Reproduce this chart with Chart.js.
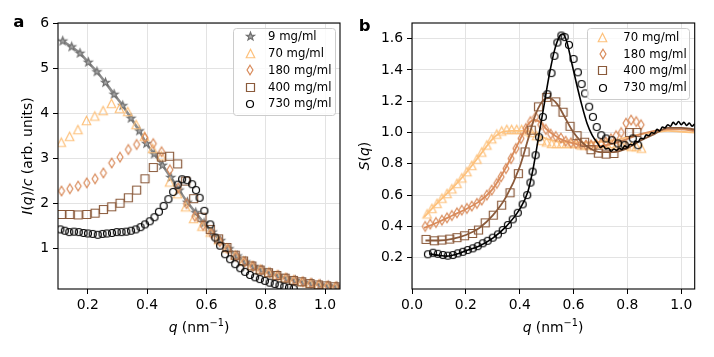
<!DOCTYPE html>
<html>
<head>
<meta charset="utf-8">
<script src="https://cdn.jsdelivr.net/npm/chart.js@4.4.1/dist/chart.umd.min.js"></script>
<style>
  html, body { margin: 0; padding: 0; background: #fff; }
  #wrap { display: flex; width: 714px; height: 357px; }
  canvas { display: block; }
</style>
</head>
<body>
<div id="wrap">
  <canvas id="chartA" width="357" height="357"></canvas>
  <canvas id="chartB" width="357" height="357"></canvas>
</div>
<script>
// ---- panel a : I(q)/c ----
const labels = ['9 mg/ml', '70 mg/ml', '180 mg/ml', '400 mg/ml', '730 mg/ml'];

const qA9 = [0.116, 0.146, 0.174, 0.202, 0.231, 0.260, 0.289, 0.318, 0.346, 0.374, 0.398, 0.424, 0.452, 0.480, 0.508, 0.536, 0.564, 0.592, 0.620, 0.648, 0.676, 0.704, 0.732, 0.760, 0.788, 0.816, 0.844, 0.872, 0.900, 0.928, 0.956, 0.984, 1.012, 1.040];
const iA9 = [5.60, 5.47, 5.33, 5.13, 4.92, 4.68, 4.42, 4.17, 3.89, 3.61, 3.33, 3.10, 2.85, 2.58, 2.30, 2.03, 1.80, 1.57, 1.37, 1.18, 1.00, 0.84, 0.71, 0.61, 0.53, 0.46, 0.40, 0.34, 0.30, 0.26, 0.23, 0.20, 0.18, 0.16];

const qA70 = [0.111, 0.139, 0.167, 0.196, 0.224, 0.252, 0.280, 0.307, 0.335, 0.363, 0.391, 0.419, 0.448, 0.476, 0.503, 0.530, 0.557, 0.585, 0.613, 0.641, 0.669, 0.697, 0.725, 0.753, 0.781, 0.809, 0.837, 0.865, 0.893, 0.921, 0.949, 0.977, 1.005, 1.033];
const iA70 = [3.36, 3.49, 3.64, 3.84, 3.94, 4.06, 4.22, 4.11, 4.04, 3.75, 3.49, 3.22, 3.06, 2.48, 2.22, 1.93, 1.67, 1.50, 1.37, 1.20, 1.02, 0.86, 0.73, 0.63, 0.55, 0.48, 0.42, 0.36, 0.31, 0.27, 0.24, 0.21, 0.18, 0.16];

const qA180 = [0.112, 0.140, 0.168, 0.197, 0.225, 0.253, 0.281, 0.309, 0.337, 0.365, 0.393, 0.421, 0.449, 0.477, 0.505, 0.533, 0.561, 0.589, 0.617, 0.645, 0.673, 0.701, 0.729, 0.757, 0.785, 0.813, 0.841, 0.869, 0.897, 0.925, 0.953, 0.981, 1.009, 1.037];
const iA180 = [2.28, 2.33, 2.39, 2.46, 2.55, 2.68, 2.90, 3.03, 3.20, 3.31, 3.46, 3.33, 3.15, 2.75, 2.35, 2.00, 1.72, 1.52, 1.34, 1.16, 0.99, 0.83, 0.71, 0.61, 0.53, 0.47, 0.41, 0.35, 0.30, 0.27, 0.24, 0.21, 0.18, 0.16];

const qA400 = [0.112, 0.140, 0.168, 0.197, 0.225, 0.253, 0.281, 0.309, 0.337, 0.365, 0.393, 0.421, 0.449, 0.476, 0.503, 0.530, 0.557, 0.585, 0.613, 0.641, 0.669, 0.697, 0.725, 0.753, 0.781, 0.809, 0.837, 0.865, 0.893, 0.921, 0.949, 0.977, 1.005, 1.033];
const iA400 = [1.76, 1.76, 1.75, 1.76, 1.79, 1.87, 1.93, 2.01, 2.13, 2.30, 2.55, 2.80, 3.03, 3.05, 2.88, 2.50, 2.11, 1.70, 1.43, 1.22, 1.03, 0.86, 0.73, 0.62, 0.53, 0.47, 0.41, 0.35, 0.30, 0.27, 0.23, 0.20, 0.18, 0.16];

const qA730 = [0.108, 0.123, 0.138, 0.154, 0.170, 0.186, 0.201, 0.217, 0.234, 0.250, 0.265, 0.282, 0.298, 0.314, 0.330, 0.346, 0.362, 0.378, 0.393, 0.409, 0.425, 0.440, 0.456, 0.472, 0.488, 0.503, 0.518, 0.535, 0.552, 0.565, 0.577, 0.593, 0.613, 0.630, 0.646, 0.663, 0.680, 0.697, 0.714, 0.730, 0.747, 0.764, 0.780, 0.797, 0.813, 0.830, 0.846, 0.862, 0.878, 0.894];
const iA730 = [1.43, 1.40, 1.37, 1.38, 1.37, 1.35, 1.34, 1.33, 1.31, 1.33, 1.34, 1.35, 1.37, 1.37, 1.38, 1.40, 1.43, 1.48, 1.54, 1.61, 1.70, 1.82, 1.95, 2.10, 2.26, 2.42, 2.54, 2.52, 2.43, 2.30, 2.13, 1.84, 1.54, 1.25, 1.07, 0.88, 0.77, 0.66, 0.57, 0.49, 0.42, 0.37, 0.33, 0.29, 0.25, 0.22, 0.19, 0.16, 0.14, 0.12];

// ---- panel b : S(q) markers ----
const qB70 = [0.056, 0.074, 0.093, 0.111, 0.130, 0.148, 0.167, 0.185, 0.204, 0.222, 0.241, 0.259, 0.278, 0.296, 0.315, 0.333, 0.352, 0.370, 0.389, 0.407, 0.426, 0.444, 0.463, 0.481, 0.500, 0.519, 0.537, 0.556, 0.574, 0.593, 0.611, 0.630, 0.648, 0.667, 0.685, 0.704, 0.722, 0.741, 0.759, 0.778, 0.796, 0.815, 0.833, 0.852];
const sB70 = [0.48, 0.515, 0.547, 0.58, 0.61, 0.64, 0.675, 0.71, 0.75, 0.79, 0.83, 0.875, 0.92, 0.96, 0.99, 1.01, 1.02, 1.02, 1.02, 1.02, 1.01, 1.00, 0.98, 0.95, 0.94, 0.93, 0.93, 0.93, 0.93, 0.93, 0.93, 0.92, 0.92, 0.92, 0.93, 0.93, 0.93, 0.93, 0.92, 0.92, 0.92, 0.91, 0.91, 0.90];

const qB180 = [0.049, 0.068, 0.089, 0.111, 0.130, 0.148, 0.167, 0.185, 0.204, 0.222, 0.241, 0.259, 0.278, 0.296, 0.315, 0.331, 0.349, 0.368, 0.386, 0.405, 0.423, 0.440, 0.459, 0.478, 0.497, 0.515, 0.534, 0.553, 0.571, 0.590, 0.609, 0.627, 0.646, 0.665, 0.683, 0.702, 0.720, 0.739, 0.758, 0.777, 0.795, 0.814, 0.833, 0.851];
const sB180 = [0.40, 0.415, 0.425, 0.44, 0.455, 0.47, 0.487, 0.504, 0.515, 0.53, 0.547, 0.568, 0.60, 0.632, 0.675, 0.717, 0.77, 0.834, 0.898, 0.962, 1.026, 1.07, 1.10, 1.05, 1.02, 0.99, 0.975, 0.965, 0.945, 0.935, 0.93, 0.925, 0.92, 0.92, 0.925, 0.93, 0.94, 0.96, 0.98, 1.00, 1.06, 1.08, 1.07, 1.05];

const qB400 = [0.052, 0.083, 0.111, 0.140, 0.167, 0.195, 0.225, 0.247, 0.272, 0.302, 0.333, 0.364, 0.395, 0.420, 0.443, 0.470, 0.500, 0.534, 0.561, 0.587, 0.613, 0.641, 0.665, 0.692, 0.721, 0.750, 0.780, 0.808, 0.835];
const sB400 = [0.317, 0.308, 0.313, 0.319, 0.328, 0.34, 0.355, 0.377, 0.423, 0.472, 0.536, 0.615, 0.737, 0.876, 1.015, 1.164, 1.225, 1.196, 1.13, 1.04, 0.98, 0.938, 0.89, 0.868, 0.862, 0.866, 0.92, 1.00, 1.00];

const qB730 = [0.059, 0.078, 0.096, 0.115, 0.133, 0.152, 0.170, 0.189, 0.207, 0.226, 0.244, 0.263, 0.281, 0.300, 0.319, 0.337, 0.356, 0.374, 0.393, 0.411, 0.428, 0.440, 0.448, 0.459, 0.472, 0.486, 0.503, 0.518, 0.529, 0.540, 0.555, 0.567, 0.583, 0.600, 0.616, 0.630, 0.643, 0.658, 0.672, 0.686, 0.703, 0.721, 0.743, 0.765, 0.790, 0.820, 0.840];
const sB730 = [0.222, 0.232, 0.225, 0.217, 0.213, 0.217, 0.228, 0.238, 0.249, 0.26, 0.274, 0.292, 0.308, 0.328, 0.349, 0.377, 0.409, 0.445, 0.487, 0.541, 0.60, 0.68, 0.75, 0.855, 0.97, 1.10, 1.245, 1.38, 1.49, 1.575, 1.62, 1.61, 1.56, 1.47, 1.385, 1.31, 1.25, 1.165, 1.10, 1.035, 0.983, 0.962, 0.951, 0.93, 0.919, 0.962, 0.919];

// ---- panel b : S(q) lines ----
const qL70 = [0.045, 0.10, 0.15, 0.20, 0.25, 0.30, 0.33, 0.37, 0.42, 0.46, 0.50, 0.55, 0.60, 0.65, 0.70, 0.75, 0.80, 0.85, 0.90, 0.95, 1.00, 1.05];
const sL70 = [0.46, 0.56, 0.645, 0.74, 0.85, 0.96, 1.00, 1.01, 1.01, 0.99, 0.96, 0.94, 0.935, 0.935, 0.94, 0.95, 0.97, 0.99, 1.00, 1.01, 1.005, 1.00];

const qL180 = [0.045, 0.10, 0.15, 0.20, 0.25, 0.30, 0.35, 0.40, 0.43, 0.455, 0.48, 0.50, 0.55, 0.60, 0.65, 0.70, 0.75, 0.80, 0.85, 0.90, 0.95, 1.00, 1.05];
const sL180 = [0.39, 0.43, 0.47, 0.51, 0.56, 0.64, 0.78, 0.95, 1.05, 1.08, 1.06, 1.02, 0.96, 0.93, 0.915, 0.915, 0.93, 0.96, 0.99, 1.01, 1.02, 1.02, 1.01];

const qL400 = [0.05, 0.10, 0.15, 0.20, 0.25, 0.30, 0.35, 0.40, 0.43, 0.46, 0.49, 0.51, 0.54, 0.57, 0.60, 0.63, 0.66, 0.70, 0.75, 0.80, 0.85, 0.90, 0.95, 1.00, 1.05];
const sL400 = [0.31, 0.31, 0.32, 0.345, 0.39, 0.47, 0.59, 0.78, 0.95, 1.12, 1.21, 1.22, 1.18, 1.09, 1.00, 0.94, 0.90, 0.875, 0.875, 0.90, 0.95, 0.99, 1.03, 1.03, 1.02];

const qL730 = [0.065, 0.10, 0.13, 0.17, 0.20, 0.25, 0.30, 0.35, 0.40, 0.43, 0.45, 0.47, 0.49, 0.51, 0.53, 0.55, 0.56, 0.575, 0.59, 0.61, 0.63, 0.65, 0.67, 0.69, 0.70, 0.71, 0.72, 0.73, 0.74, 0.75, 0.76, 0.77, 0.78, 0.79, 0.80, 0.81, 0.82, 0.83, 0.84, 0.85, 0.86, 0.87, 0.88, 0.89, 0.90, 0.91, 0.92, 0.93, 0.94, 0.95, 0.96, 0.97, 0.98, 0.99, 1.00, 1.01, 1.02, 1.03, 1.04, 1.05];
const sL730 = [0.225, 0.215, 0.21, 0.225, 0.245, 0.275, 0.325, 0.40, 0.51, 0.62, 0.77, 0.97, 1.17, 1.37, 1.53, 1.62, 1.63, 1.58, 1.47, 1.32, 1.18, 1.06, 0.98, 0.93, 0.905, 0.915, 0.895, 0.90, 0.88, 0.895, 0.885, 0.90, 0.89, 0.915, 0.905, 0.925, 0.92, 0.945, 0.94, 0.965, 0.96, 0.985, 0.98, 1.00, 0.995, 1.02, 1.01, 1.035, 1.03, 1.05, 1.04, 1.065, 1.05, 1.07, 1.05, 1.065, 1.045, 1.06, 1.04, 1.055];

const FONT = 'DejaVu Sans';
const C70 = '#fdc17c';
const C180 = '#d98b5b';
const C400 = '#8a5a3b';
const C730 = '#000000';

Chart.defaults.font.family = FONT;
Chart.defaults.color = '#000';

// marker images, matplotlib-like shapes
function marker(shape, stroke, size, fill) {
  const lw = 1.2;
  const s = Math.ceil(size + lw + 3);
  const c = document.createElement('canvas');
  c.width = s;
  c.height = s;
  const g = c.getContext('2d');
  const m = s / 2, r = size / 2;
  g.beginPath();
  if (shape === 'circle') {
    g.arc(m, m, r, 0, Math.PI * 2);
  } else if (shape === 'square') {
    g.rect(m - r, m - r, size, size);
  } else if (shape === 'triangle') {
    g.moveTo(m, m - r);
    g.lineTo(m + r, m + r);
    g.lineTo(m - r, m + r);
    g.closePath();
  } else if (shape === 'diamond') {
    g.moveTo(m, m - r);
    g.lineTo(m + r * 0.62, m);
    g.lineTo(m, m + r);
    g.lineTo(m - r * 0.62, m);
    g.closePath();
  } else if (shape === 'star') {
    for (let i = 0; i < 10; i++) {
      const rr = i % 2 ? r * 0.42 : r;
      const a = -Math.PI / 2 + i * Math.PI / 5;
      g.lineTo(m + rr * Math.cos(a), m + rr * Math.sin(a));
    }
    g.closePath();
  }
  if (fill) {
    g.fillStyle = fill;
    g.fill();
  }
  g.strokeStyle = stroke;
  g.lineWidth = lw;
  g.stroke();
  return c;
}

const mStar = marker('star', '#6f6f6f', 8.5, '#a8a8a8');
const mTri = marker('triangle', C70, 8.5);
const mDia = marker('diamond', C180, 9.5);
const mSq = marker('square', C400, 8);
const mCirc = marker('circle', C730, 7);

function pts(q, v) {
  return q.map((x, i) => ({ x: x, y: v[i] }));
}

function richText(ctx, parts, x, y, rot) {
  const size = 13.9;
  const fontOf = p => (p[1] === 'i' ? 'italic ' : '') + (p[1] === 's' ? size * 0.7 : size) + 'px "' + FONT + '"';
  ctx.save();
  ctx.translate(x, y);
  if (rot) ctx.rotate(rot);
  let w = 0;
  parts.forEach(p => { ctx.font = fontOf(p); w += ctx.measureText(p[0]).width; });
  let cx = -w / 2;
  ctx.fillStyle = '#000';
  ctx.textAlign = 'left';
  ctx.textBaseline = 'alphabetic';
  parts.forEach(p => {
    ctx.font = fontOf(p);
    ctx.fillText(p[0], cx, p[1] === 's' ? -5.6 : 0);
    cx += ctx.measureText(p[0]).width;
  });
  ctx.restore();
}

function deco(cfg) {
  return {
    id: 'deco',
    afterDraw(chart) {
      const ctx = chart.ctx, a = chart.chartArea;
      ctx.save();
      ctx.strokeStyle = '#000';
      ctx.lineWidth = 1.1;
      ctx.strokeRect(a.left, a.top, a.right - a.left, a.bottom - a.top);

      const L = cfg.legend;
      ctx.beginPath();
      if (ctx.roundRect) ctx.roundRect(L.x + 0.5, L.y + 0.5, L.w, L.h, 3);
      else ctx.rect(L.x + 0.5, L.y + 0.5, L.w, L.h);
      ctx.fillStyle = 'rgba(255,255,255,0.8)';
      ctx.fill();
      ctx.strokeStyle = '#cccccc';
      ctx.lineWidth = 1;
      ctx.stroke();
      ctx.fillStyle = '#000';
      ctx.font = '11.7px "' + FONT + '"';
      ctx.textAlign = 'left';
      ctx.textBaseline = 'middle';
      L.items.forEach((it, i) => {
        const y = L.row0 + i * L.dy;
        ctx.drawImage(it[0], Math.round(L.mx - it[0].width / 2), Math.round(y - it[0].height / 2));
        ctx.fillText(it[1], L.tx, y + 0.5);
      });

      richText(ctx, cfg.xlabel, cfg.xl[0], cfg.xl[1], 0);
      richText(ctx, cfg.ylabel, cfg.yl[0], cfg.yl[1], -Math.PI / 2);

      ctx.font = 'bold 16.5px "' + FONT + '"';
      ctx.textAlign = 'left';
      ctx.textBaseline = 'alphabetic';
      ctx.fillStyle = '#000';
      ctx.fillText(cfg.letter[0], cfg.letter[1], cfg.letter[2]);
      ctx.restore();
    }
  };
}

function axis(min, max, ticks, fmt, size, pad) {
  return {
    type: 'linear',
    min: min,
    max: max,
    afterBuildTicks: s => { s.ticks = ticks.map(v => ({ value: v })); },
    afterFit: s => { if (s.isHorizontal()) s.height = size; else s.width = size; },
    ticks: { callback: fmt, padding: pad, font: { family: FONT, size: 13.9 }, color: '#000', maxRotation: 0, autoSkip: false },
    grid: { color: '#e3e3e3', lineWidth: 1, tickColor: '#000', tickLength: 5, tickWidth: 1 },
    border: { display: false },
  };
}

function markers(q, v, img, order) {
  return { data: pts(q, v), showLine: false, pointStyle: img, pointRadius: 4, order: order };
}

function curve(q, v, color, width, order) {
  return {
    data: pts(q, v), showLine: true, pointRadius: 0, borderColor: color, borderWidth: width,
    cubicInterpolationMode: 'monotone', fill: false, order: order,
  };
}

const common = {
  responsive: false,
  animation: false,
  devicePixelRatio: 1,
  events: [],
  plugins: { legend: { display: false }, tooltip: { enabled: false } },
};

const fmt1 = v => v.toFixed(1);

new Chart(document.getElementById('chartA'), {
  type: 'scatter',
  data: {
    datasets: [
      Object.assign(markers(qA9, iA9, mStar, 9), { showLine: true, borderColor: '#8c8c8c', borderWidth: 2.6, cubicInterpolationMode: 'monotone' }),
      markers(qA70, iA70, mTri, 4),
      markers(qA180, iA180, mDia, 3),
      markers(qA400, iA400, mSq, 2),
      markers(qA730, iA730, mCirc, 1),
    ],
  },
  options: Object.assign({}, common, {
    layout: { padding: { left: 0, top: 23, right: 17, bottom: 0 } },
    scales: {
      x: axis(0.1, 1.05, [0.2, 0.4, 0.6, 0.8, 1.0], fmt1, 68, 3),
      y: axis(0.11, 6, [1, 2, 3, 4, 5, 6], v => String(v), 58, 4),
    },
  }),
  plugins: [deco({
    legend: {
      x: 233, y: 28, w: 102, h: 87, row0: 36.7, dy: 16.8, mx: 250, tx: 268,
      items: [[mStar, labels[0]], [mTri, labels[1]], [mDia, labels[2]], [mSq, labels[3]], [mCirc, labels[4]]],
    },
    xlabel: [['q', 'i'], [' (nm', ''], ['\u22121', 's'], [')', '']],
    ylabel: [['I', 'i'], ['(', ''], ['q', 'i'], [')/', ''], ['c', 'i'], [' (arb. units)', '']],
    xl: [199, 331.5],
    yl: [31.5, 156],
    letter: ['a', 13.2, 27.3],
  })],
});

new Chart(document.getElementById('chartB'), {
  type: 'scatter',
  data: {
    datasets: [
      markers(qB70, sB70, mTri, 7),
      curve(qL70, sL70, C70, 1.8, 6),
      markers(qB180, sB180, mDia, 5),
      curve(qL180, sL180, C180, 1.8, 4),
      markers(qB400, sB400, mSq, 3),
      curve(qL400, sL400, C400, 1.8, 2),
      markers(qB730, sB730, mCirc, 1),
      curve(qL730, sL730, C730, 1.6, 0),
    ],
  },
  options: Object.assign({}, common, {
    layout: { padding: { left: 0, top: 23, right: 19.3, bottom: 0 } },
    scales: {
      x: axis(0, 1.05, [0, 0.2, 0.4, 0.6, 0.8, 1.0], fmt1, 68, 3),
      y: axis(0, 1.7, [0.2, 0.4, 0.6, 0.8, 1.0, 1.2, 1.4, 1.6], fmt1, 55, 4),
    },
  }),
  plugins: [deco({
    legend: {
      x: 230, y: 28, w: 102, h: 71, row0: 37.7, dy: 16.6, mx: 245.7, tx: 266.3,
      items: [[mTri, labels[1]], [mDia, labels[2]], [mSq, labels[3]], [mCirc, labels[4]]],
    },
    xlabel: [['q', 'i'], [' (nm', ''], ['\u22121', 's'], [')', '']],
    ylabel: [['S', 'i'], ['(', ''], ['q', 'i'], [')', '']],
    xl: [196, 331.5],
    yl: [12.2, 156],
    letter: ['b', 1.7, 30.7],
  })],
});
</script>
</body>
</html>
